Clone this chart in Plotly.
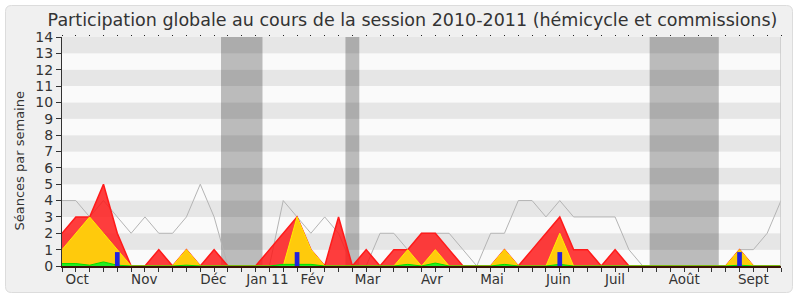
import plotly.graph_objects as go

# ---- data (one point per week, Oct 2010 -> Sept 2011) ----
weeks = list(range(53))
total_presence = [4, 4, 3, 4, 3, 2, 3, 2, 2, 3, 5, 3, 0, 0, 0, 0, 4, 3, 2, 3,
                  2, 0, 0, 2, 2, 1, 2, 2, 2, 1, 0, 2, 2, 4, 4, 3, 4, 3, 3, 3,
                  3, 1, 0, 0, 0, 0, 0, 0, 0, 1, 1, 2, 4]
seances_total = [2, 3, 3, 5, 2, 0, 0, 1, 0, 1, 0, 1, 0, 0, 0, 1, 2, 3, 1, 0,
                 3, 0, 1, 0, 1, 1, 2, 2, 1, 0, 0, 0, 1, 0, 1, 2, 3, 1, 1, 0,
                 1, 0, 0, 0, 0, 0, 0, 0, 0, 1, 0, 0, 0]
seances_comm = [1, 2, 3, 2, 1, 0, 0, 0, 0, 1, 0, 0, 0, 0, 0, 0, 0, 3, 1, 0,
                0, 0, 0, 0, 0, 1, 0, 1, 0, 0, 0, 0, 1, 0, 0, 0, 2, 0, 0, 0,
                0, 0, 0, 0, 0, 0, 0, 0, 0, 1, 0, 0, 0]
interventions = [0.15, 0.15, 0.05, 0.25, 0.05, 0, 0, 0, 0, 0.05, 0, 0, 0, 0, 0, 0, 0.1, 0.12, 0.1, 0,
                 0, 0, 0, 0, 0, 0.1, 0, 0.18, 0, 0, 0, 0, 0.1, 0, 0, 0, 0.1, 0, 0, 0,
                 0, 0, 0, 0, 0, 0, 0, 0, 0, 0.05, 0, 0, 0]
questions_weeks = [4, 17, 36, 49]
questions_vals = [0.85, 0.85, 0.85, 0.85]
vacances = [(11.5, 14.5), (20.5, 21.5), (42.5, 47.5)]
month_pos = [1.1, 5.95, 10.95, 14.85, 18.1, 22.1, 26.75, 31.1, 35.9, 40.0, 45.0, 50.0]
month_labels = ["Oct", "Nov", "Déc", "Jan 11", "Fév", "Mar", "Avr", "Mai", "Juin", "Juil", "Août", "Sept"]
y_ticks = list(range(15))

FONT = "DejaVu Sans"
L, R, T, B = 62, 19, 37, 34
W, H = 800, 300
pw, ph = W - L - R, H - T - B

def px(x):
    return (x - L) / pw

def py(y):
    return (H - B - y) / ph

fig = go.Figure()

fig.add_trace(go.Scatter(x=weeks, y=total_presence, mode="lines",
                         line=dict(color="#b4b4b4", width=1), hoverinfo="skip"))
fig.add_trace(go.Scatter(x=weeks, y=seances_total, mode="lines", fill="tozeroy",
                         fillcolor="rgba(255,20,20,0.82)",
                         line=dict(color="#ff1a1a", width=1.5), hoverinfo="skip"))
fig.add_trace(go.Scatter(x=weeks, y=seances_comm, mode="lines", fill="tozeroy",
                         fillcolor="rgba(255,210,10,0.95)",
                         line=dict(color="#ffee00", width=1), hoverinfo="skip"))
fig.add_trace(go.Scatter(x=weeks, y=interventions, mode="lines", fill="tozeroy",
                         fillcolor="#22ee22",
                         line=dict(color="#00dd00", width=1), hoverinfo="skip"))
# question bars drawn as thick vertical segments (so they sit above the filled areas)
bx, by = [], []
for w, v in zip(questions_weeks, questions_vals):
    bx += [w, w, None]
    by += [0, v, None]
fig.add_trace(go.Scatter(x=bx, y=by, mode="lines", line=dict(color="#2222dd", width=4.7),
                         hoverinfo="skip"))

shapes = []
# outer rounded frame
x0, x1, y0, y1, r = 5.5, 792.5, 5.5, 292.5, 6
path = (f"M {px(x0 + r)},{py(y0)} L {px(x1 - r)},{py(y0)} "
        f"Q {px(x1)},{py(y0)} {px(x1)},{py(y0 + r)} L {px(x1)},{py(y1 - r)} "
        f"Q {px(x1)},{py(y1)} {px(x1 - r)},{py(y1)} L {px(x0 + r)},{py(y1)} "
        f"Q {px(x0)},{py(y1)} {px(x0)},{py(y1 - r)} L {px(x0)},{py(y0 + r)} "
        f"Q {px(x0)},{py(y0)} {px(x0 + r)},{py(y0)} Z")
shapes.append(dict(type="path", path=path, xref="paper", yref="paper",
                   fillcolor="#f0f0f0", line=dict(color="#dcdcdc", width=1), layer="below"))
# horizontal stripes
for k in range(14):
    shapes.append(dict(type="rect", xref="x", yref="y", x0=0, x1=52, y0=k, y1=k + 1,
                       fillcolor="#e6e6e6" if k % 2 == 1 else "#fafafa",
                       line=dict(width=0), layer="below"))
# vacation bands
for a, b in vacances:
    shapes.append(dict(type="rect", xref="x", yref="y", x0=a, x1=b, y0=0, y1=14,
                       fillcolor="rgba(0,0,0,0.25)", line=dict(width=0), layer="below"))
# right border
shapes.append(dict(type="line", xref="x", yref="y", x0=52, x1=52, y0=0, y1=14,
                   line=dict(color="#c8c8c8", width=1.5), layer="above"))

fig.update_layout(
    width=W, height=H, margin=dict(l=L, r=R, t=T, b=B),
    paper_bgcolor="white", plot_bgcolor="#fafafa",
    showlegend=False,
    font=dict(family=FONT, color="#333333"),
    title=dict(text="Participation globale au cours de la session 2010-2011 (hémicycle et commissions)",
               x=px(412.5), xref="paper", xanchor="center", y=1 - 20 / H, yanchor="middle",
               font=dict(family=FONT, size=17.5, color="#333333")),
    shapes=shapes,
    annotations=[dict(text="Séances par semaine", textangle=-90, xref="paper", yref="paper",
                      x=px(18.5), y=py(161), xanchor="center", yanchor="middle",
                      showarrow=False, font=dict(family=FONT, size=13, color="#333333"))],
    xaxis=dict(range=[0, 52], tickvals=weeks, showticklabels=False, ticks="outside",
               ticklen=4, tickcolor="#333333", tickwidth=1, showgrid=False, zeroline=False,
               showline=True, linecolor="#3a1408", linewidth=2, fixedrange=True),
    xaxis2=dict(range=[0, 52], overlaying="x", anchor="y", side="bottom",
                tickvals=month_pos, ticktext=month_labels, ticks="", showgrid=False,
                zeroline=False, showline=False, ticklabelstandoff=3,
                tickfont=dict(family=FONT, size=13.5, color="#333333")),
    xaxis3=dict(range=[0, 52], overlaying="x", anchor="y", side="top",
                tickvals=weeks, showticklabels=False, ticks="outside", ticklen=1.5,
                tickcolor="#222222", tickwidth=1, showgrid=False, zeroline=False, showline=False),
    yaxis=dict(range=[0, 14], tickvals=y_ticks, ticks="outside", ticklen=5,
               tickcolor="#333333", showgrid=False, zeroline=False, showline=True,
               linecolor="#333333", linewidth=1,
               tickfont=dict(family=FONT, size=14, color="#333333")),
)
# invisible traces to activate overlay axes
fig.add_trace(go.Scatter(x=[0], y=[0], xaxis="x2", mode="markers", marker=dict(opacity=0),
                         hoverinfo="skip"))
fig.add_trace(go.Scatter(x=[0], y=[0], xaxis="x3", mode="markers", marker=dict(opacity=0),
                         hoverinfo="skip"))

fig.write_html("out.html")
